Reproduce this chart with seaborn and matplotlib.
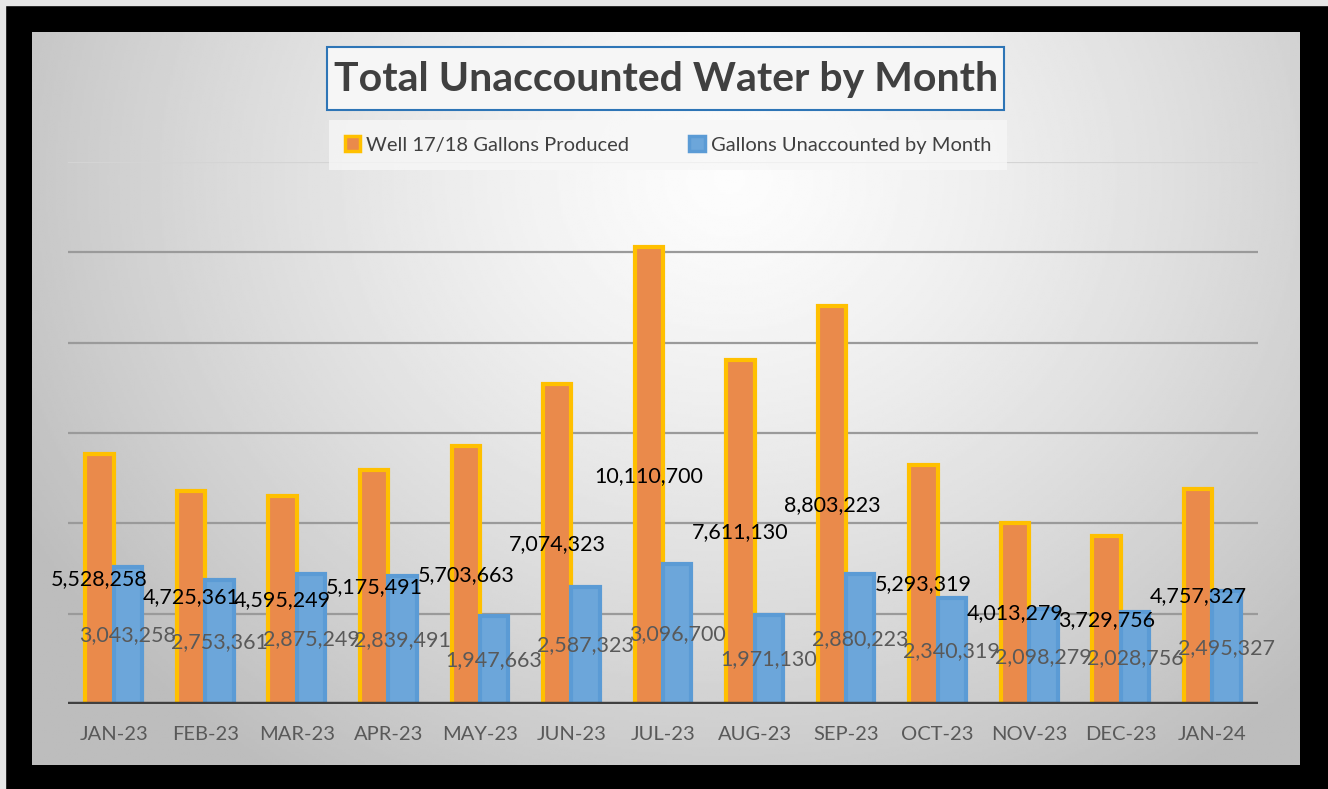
import numpy as np
import pandas as pd
import matplotlib.pyplot as plt
from matplotlib.patches import Rectangle
import seaborn as sns

# data
months = ['JAN-23', 'FEB-23', 'MAR-23', 'APR-23', 'MAY-23', 'JUN-23', 'JUL-23',
          'AUG-23', 'SEP-23', 'OCT-23', 'NOV-23', 'DEC-23', 'JAN-24']
produced = [5528258, 4725361, 4595249, 5175491, 5703663, 7074323, 10110700,
            7611130, 8803223, 5293319, 4013279, 3729756, 4757327]
unaccounted = [3043258, 2753361, 2875249, 2839491, 1947663, 2587323, 3096700,
               1971130, 2880223, 2340319, 2098279, 2028756, 2495327]
series_names = ['Well 17/18 Gallons Produced', 'Gallons Unaccounted by Month']

df = pd.DataFrame({
    'month': months * 2,
    'gallons': produced + unaccounted,
    'series': [series_names[0]] * len(months) + [series_names[1]] * len(months),
})

ORANGE, GOLD = '#EA8A4B', '#FFC000'
BLUE, BLUE_EDGE = '#6CA6DA', '#5B9BD5'

plt.rcParams['font.family'] = ['Lato', 'DejaVu Sans']

W, H = 1328, 789
fig = plt.figure(figsize=(W / 100, H / 100), dpi=100, facecolor='black')
fig.patches.append(Rectangle((0, 0), 5 / W, 1, transform=fig.transFigure,
                             color='#e6e6e6', zorder=-5))
fig.patches.append(Rectangle((0, 1 - 5 / H), 1, 5 / H, transform=fig.transFigure,
                             color='#e6e6e6', zorder=-5))

# gradient background of the chart area
bg = fig.add_axes([32 / W, 24 / H, 1268 / W, 733 / H], zorder=0)
yy, xx = np.mgrid[0:1:300j, 0:1:600j]
r = np.sqrt(((xx - 0.55) / 0.62) ** 2 + ((yy - 0.2) / 0.95) ** 2)
shade = np.clip(0.99 - 0.24 * r ** 1.3, 0.74, 1)
bg.imshow(shade, cmap='gray', vmin=0, vmax=1, aspect='auto', extent=(0, 1, 1, 0))
bg.set_axis_off()

ax = fig.add_axes([68 / W, 85 / H, 1190 / W, 542 / H], zorder=1)
ax.set_facecolor('none')
sns.barplot(data=df, x='month', y='gallons', hue='series',
            palette=[ORANGE, BLUE], saturation=1, width=0.62, errorbar=None,
            ax=ax, legend=False, zorder=2)

ax.set_ylim(0, 12_000_000)
ax.set_xlim(-0.5, len(months) - 0.5)
for v in range(2_000_000, 12_000_001, 2_000_000):
    ax.axhline(v, color='#9a9a9a' if v < 12_000_000 else '#d4d4d4', lw=1.6, zorder=1)
ax.axhline(0, color='#404040', lw=3.2, zorder=4)

for c, ec in zip(ax.containers, [GOLD, BLUE_EDGE]):
    for p in c:
        p.set_edgecolor(ec)
        p.set_linewidth(3)

ax.bar_label(ax.containers[0], labels=[f'{v:,}' for v in produced],
             label_type='center', color='black', fontsize=15.5, zorder=5)
ax.bar_label(ax.containers[1], labels=[f'{v:,}' for v in unaccounted],
             label_type='center', color='#595959', fontsize=15.5, zorder=5)

for s in ax.spines.values():
    s.set_visible(False)
ax.set_yticks([])
ax.set_xlabel('')
ax.set_ylabel('')
ax.tick_params(axis='x', length=0, pad=16, labelsize=14.5, labelcolor='#595959')

# title box
fig.patches.append(Rectangle((327 / W, 1 - 110 / H), 677 / W, 63 / H,
                             transform=fig.transFigure, facecolor='#f6f6f6',
                             edgecolor='#2E75B6', lw=1.5, zorder=3))
fig.text(666 / W, 1 - 79 / H, 'Total Unaccounted Water by Month', ha='center',
         va='center', fontsize=29.5, fontweight='bold', color='#404040', zorder=4)

handles = [Rectangle((0, 0), 1, 1, facecolor=ORANGE, edgecolor=GOLD, lw=2.5),
           Rectangle((0, 0), 1, 1, facecolor=BLUE, edgecolor=BLUE_EDGE, lw=2.5)]
leg = fig.legend(handles, series_names, loc='center', ncol=2,
                 bbox_to_anchor=(668 / W, 1 - 145 / H), frameon=True,
                 facecolor='#f7f7f7', edgecolor='none', fontsize=14.5,
                 handlelength=0.75, handleheight=0.75, handletextpad=0.3,
                 columnspacing=3.0, borderpad=0.5, labelcolor='#404040')
leg.get_frame().set_boxstyle('square')

fig.savefig('out.png', dpi=100, facecolor=fig.get_facecolor())
